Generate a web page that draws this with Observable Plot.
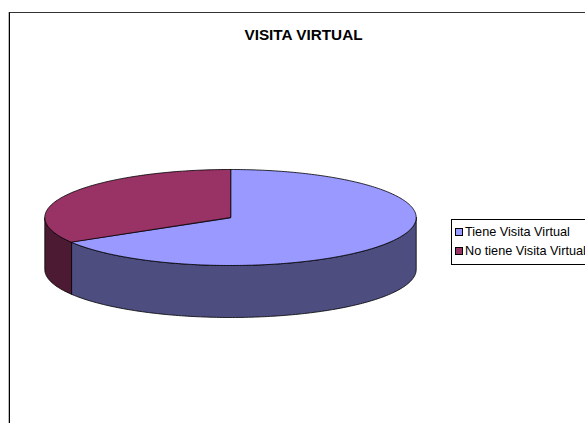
<!DOCTYPE html>
<html>
<head>
<meta charset="utf-8">
<script src="https://cdn.jsdelivr.net/npm/d3@7"></script>
<script src="https://cdn.jsdelivr.net/npm/@observablehq/plot@0.6"></script>
<style>
  html, body { margin: 0; padding: 0; background: #fff; }
  #wrap { position: relative; width: 585px; height: 423px; overflow: hidden; font-family: Arial, "Liberation Sans", sans-serif; }
  #frame { position: absolute; left: 9px; top: 12px; width: 620px; height: 460px; border: 1px solid #000; border-top-color: #333; box-shadow: -1px 0 0 #bbb; pointer-events: none; }
  #title { box-sizing: border-box; width: 585px; height: 50px; padding-top: 27px; padding-left: 22px; text-align: center; font-weight: bold; font-size: 15.3px; line-height: 16px; color: #000; }
  #chart svg { display: block; }
  #legend { position: absolute; left: 451px; top: 219px; border: 1px solid #000; padding: 3px 40px 3px 3px; background: #fff; white-space: nowrap; font-size: 12.7px; line-height: 19px; color: #000; }
  .sw { display: inline-block; width: 6px; height: 6px; border: 1px solid #000; margin-right: 2px; vertical-align: 0px; }
</style>
</head>
<body>
<div id="wrap">
  <div id="frame"></div>
  <div id="title">VISITA VIRTUAL</div>
  <div id="chart"></div>
  <div id="legend"></div>
</div>
<script>
// Data
const categories = ["Tiene Visita Virtual", "No tiene Visita Virtual"];
const values = [66.4, 33.6];
const topColors = ["#9999FF", "#993366"];
const sideColors = ["#4D4D80", "#4D1A33"];

// 3D pie geometry (unit ellipse; depth in units of the vertical radius)
const depth = 52 / 48;
const arcs = d3.pie().sort(null).startAngle(0).endAngle(2 * Math.PI)(values);
const pt = (a, dy) => ({x: Math.sin(a), y: -Math.cos(a) + dy});
function arcPts(a0, a1, dy) {
  const n = Math.max(2, Math.ceil((a1 - a0) / (Math.PI / 180)));
  return d3.range(n + 1).map(i => pt(a0 + (a1 - a0) * i / n, dy));
}
const tops = [], walls = [];
arcs.forEach((a, i) => {
  [{x: 0, y: 0}, ...arcPts(a.startAngle, a.endAngle, 0)]
    .forEach(p => tops.push({...p, id: "t" + i, fill: topColors[i]}));
  const s = Math.max(a.startAngle, Math.PI / 2), e = Math.min(a.endAngle, 3 * Math.PI / 2);
  if (e > s) {
    [...arcPts(s, e, 0), ...arcPts(s, e, depth).reverse()]
      .forEach(p => walls.push({...p, id: "w" + i, fill: sideColors[i]}));
  }
});

const chart = Plot.plot({
  width: 585,
  height: 373,
  margin: 0,
  x: {domain: [-1, 1], range: [44.3, 415.7], axis: null},
  y: {domain: [-1, 1], range: [119, 215], axis: null},
  color: {type: "identity"},
  marks: [
    Plot.line(walls, {x: "x", y: "y", z: "id", fill: "fill", stroke: "#000", strokeWidth: 0.8, curve: "linear-closed"}),
    Plot.line(tops, {x: "x", y: "y", z: "id", fill: "fill", stroke: "#000", strokeWidth: 0.8, curve: "linear-closed"})
  ]
});
document.getElementById("chart").appendChild(chart);

const legend = document.getElementById("legend");
categories.forEach((c, i) => {
  const row = document.createElement("div");
  const sw = document.createElement("span");
  sw.className = "sw";
  sw.style.background = topColors[i];
  row.appendChild(sw);
  row.appendChild(document.createTextNode(c));
  legend.appendChild(row);
});
</script>
</body>
</html>
